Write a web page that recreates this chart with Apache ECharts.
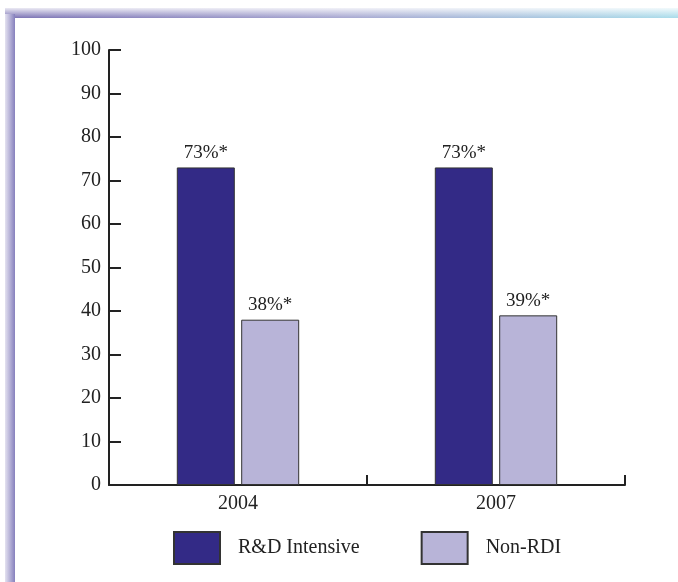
<!DOCTYPE html>
<html>
<head>
<meta charset="utf-8">
<script src="https://cdn.jsdelivr.net/npm/echarts@6/dist/echarts.min.js"></script>
<style>html,body{margin:0;padding:0;background:#fff;}#c{width:678px;height:582px;}</style>
</head>
<body>
<div id="c"></div>
<script>
var categories = ['2004', '2007'];
var rdIntensive = [73, 73];
var nonRdi = [38, 39];
var seriesNames = ['R&D Intensive', 'Non-RDI'];
var yTicks = [0, 10, 20, 30, 40, 50, 60, 70, 80, 90, 100];

var chart = echarts.init(document.getElementById('c'));
var font = '"Liberation Serif", "Times New Roman", serif';
chart.setOption({
  backgroundColor: '#ffffff',
  animation: false,
  graphic: [
    { type: 'rect', shape: { x: 5, y: 8, width: 673, height: 10 }, silent: true,
      style: { fill: new echarts.graphic.LinearGradient(0, 0, 1, 0, [
        { offset: 0, color: '#7b72b4' }, { offset: 0.5, color: '#a6a6d0' }, { offset: 1, color: '#a9dcea' }]) } },
    { type: 'rect', shape: { x: 5, y: 8, width: 673, height: 10 }, silent: true,
      style: { fill: new echarts.graphic.LinearGradient(0, 0, 0, 1, [
        { offset: 0, color: 'rgba(255,255,255,0.85)' }, { offset: 1, color: 'rgba(255,255,255,0)' }]) } },
    { type: 'rect', shape: { x: 5, y: 14, width: 10, height: 568 }, silent: true,
      style: { fill: new echarts.graphic.LinearGradient(0, 0, 1, 0, [
        { offset: 0, color: '#e4e2f0' }, { offset: 1, color: '#8680bd' }]) } }
  ],
  grid: { left: 109, right: 53, top: 50, bottom: 97, containLabel: false },
  legend: {
    data: seriesNames,
    left: 168, top: 526,
    itemWidth: 46, itemHeight: 32,
    itemGap: 61,
    icon: 'rect',
    textStyle: { fontFamily: font, fontSize: 20, color: '#222', padding: [5, 0, 0, 13] }
  },
  xAxis: {
    type: 'category',
    data: categories,
    axisLine: { lineStyle: { color: '#222', width: 2 } },
    axisTick: { show: true, inside: true, length: 10, alignWithLabel: false, lineStyle: { color: '#222', width: 2 } },
    axisLabel: { fontFamily: font, fontSize: 20, color: '#222', margin: 9 }
  },
  yAxis: {
    type: 'value',
    min: 0, max: 100, interval: 10,
    splitLine: { show: false },
    axisLine: { show: true, lineStyle: { color: '#222', width: 2 } },
    axisTick: { show: true, inside: true, length: 12, lineStyle: { color: '#222', width: 2 } },
    axisLabel: { fontFamily: font, fontSize: 20, color: '#222', margin: 8,
      formatter: function (v) { return yTicks.indexOf(v) >= 0 ? String(v) : ''; } }
  },
  series: [
    { name: seriesNames[0], type: 'bar', data: rdIntensive, barWidth: 58, barGap: '11%',
      itemStyle: { color: '#332a86', borderColor: '#333', borderWidth: 1 },
      label: { show: true, position: 'top', distance: 5, formatter: '{c}%*', fontFamily: font, fontSize: 19, color: '#222' } },
    { name: seriesNames[1], type: 'bar', data: nonRdi, barWidth: 58,
      itemStyle: { color: '#b8b4d8', borderColor: '#333', borderWidth: 1 },
      label: { show: true, position: 'top', distance: 5, formatter: '{c}%*', fontFamily: font, fontSize: 19, color: '#222' } }
  ]
});
</script>
</body>
</html>
